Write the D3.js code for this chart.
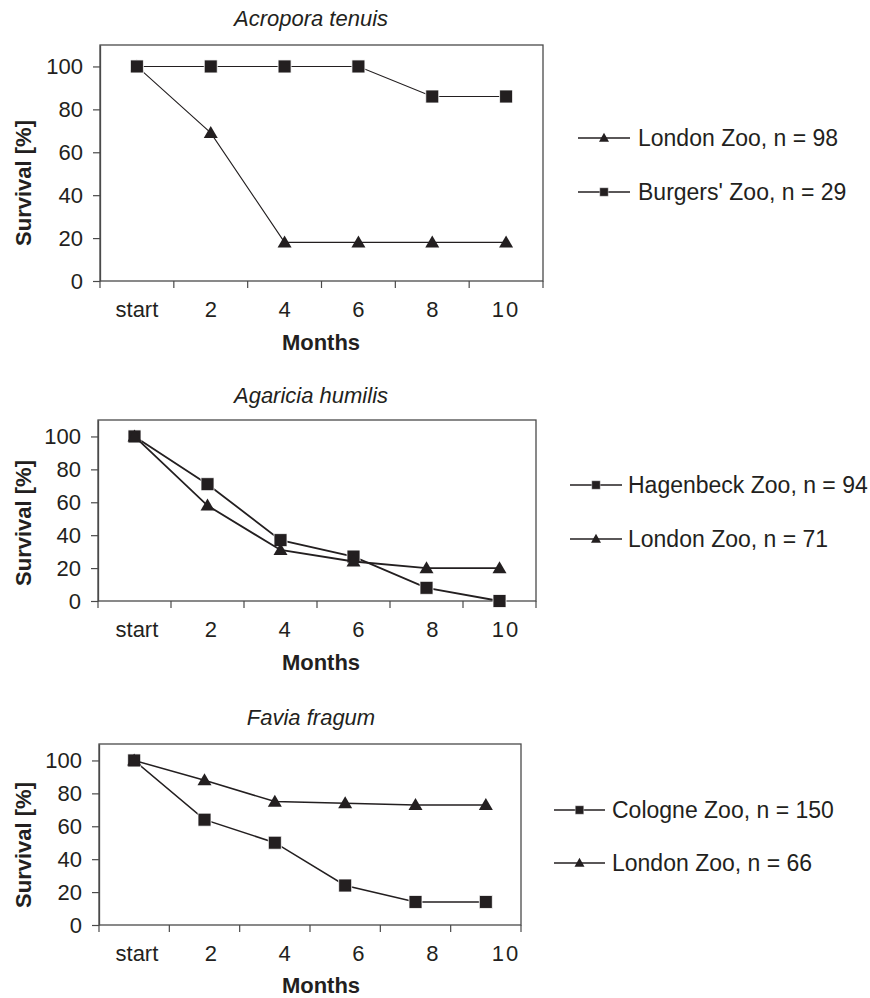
<!DOCTYPE html>
<html>
<head>
<meta charset="utf-8">
<script src="https://cdn.jsdelivr.net/npm/d3@7"></script>
<style>
  html, body { margin: 0; padding: 0; background: #fff; }
  svg { display: block; }
  text { font-family: "Liberation Sans", Arial, Helvetica, sans-serif; fill: #231f20; }
</style>
</head>
<body>
<svg id="chart" width="870" height="998"></svg>
<script>
// ---- data ----
const months = ["start", "2", "4", "6", "8", "10"];
const yTicks = [0, 20, 40, 60, 80, 100];

const acroporaLondon  = [100, 69, 18, 18, 18, 18];
const acroporaBurgers = [100, 100, 100, 100, 86, 86];

const agariciaHagenbeck = [100, 71, 37, 27, 8, 0];
const agariciaLondon    = [100, 58, 31, 24, 20, 20];

const faviaCologne = [100, 64, 50, 24, 14, 14];
const faviaLondon  = [100, 88, 75, 74, 73, 73];

const titles = ["Acropora tenuis", "Agaricia humilis", "Favia fragum"];
const xTitle = "Months";
const yTitle = "Survival [%]";

// ---- layout ----
const panels = [
  { title: titles[0], left: 100, right: 543, top: 45, bottom: 281, titleBase: 26, tickBase: 317, monthsBase: 350, yLabC: 183, lw: 1.1,
    series: [ { name: "London Zoo, n = 98", values: acroporaLondon, shape: "tri" },
              { name: "Burgers' Zoo, n = 29", values: acroporaBurgers, shape: "sq" } ],
    legend: { x0: 578, x1: 630, tx: 638, ys: [138, 192] } },
  { title: titles[1], left: 98, right: 536, top: 420, bottom: 601, titleBase: 403, tickBase: 637, monthsBase: 670, yLabC: 523, lw: 1.8,
    series: [ { name: "Hagenbeck Zoo, n = 94", values: agariciaHagenbeck, shape: "sq" },
              { name: "London Zoo, n = 71", values: agariciaLondon, shape: "tri" } ],
    legend: { x0: 570, x1: 622, tx: 628, ys: [485, 539] } },
  { title: titles[2], left: 99, right: 521, top: 744, bottom: 925, titleBase: 725, tickBase: 961, monthsBase: 993, yLabC: 845, lw: 1.5,
    series: [ { name: "Cologne Zoo, n = 150", values: faviaCologne, shape: "sq" },
              { name: "London Zoo, n = 66", values: faviaLondon, shape: "tri" } ],
    legend: { x0: 554, x1: 605, tx: 612, ys: [810, 863] } }
];

const svg = d3.select("#chart");
const FS = 22;
const LFS = 23;
const axisColor = "#4a4a4a";
const ink = "#231f20";

// tick labels share the same horizontal positions in all panels
const labelX = d3.scaleBand().domain(months).range([100, 543]);

const sqPath = s => `M${-s/2},${-s/2}h${s}v${s}h${-s}Z`;
const triPath = (w, h) => `M0,${-h*0.58}L${w/2},${h*0.42}L${-w/2},${h*0.42}Z`;

function marker(g, shape, x, y, big) {
  if (shape === "sq") {
    const s = big ? 13 : 8.5;
    g.append("path").attr("d", sqPath(s)).attr("transform", `translate(${x},${y})`)
      .attr("fill", ink).attr("stroke", "#ffffff").attr("stroke-width", big ? 0.8 : 0.4);
  } else {
    const w = big ? 14 : 10, h = big ? 12 : 9;
    g.append("path").attr("d", triPath(w, h)).attr("transform", `translate(${x},${y})`)
      .attr("fill", ink);
  }
}

panels.forEach(p => {
  const g = svg.append("g");
  const x = d3.scaleBand().domain(months).range([p.left, p.right]);
  const y = d3.scaleLinear().domain([0, 110]).range([p.bottom, p.top]);

  // frame
  g.append("rect").attr("x", p.left).attr("y", p.top)
    .attr("width", p.right - p.left).attr("height", p.bottom - p.top)
    .attr("fill", "none").attr("stroke", axisColor).attr("stroke-width", 1.3);

  // y axis
  const yAxis = d3.axisLeft(y).tickValues(yTicks).tickSize(7).tickPadding(10).tickSizeOuter(0);
  const ya = g.append("g").attr("transform", `translate(${p.left},0)`).call(yAxis);
  ya.select(".domain").attr("stroke", axisColor).attr("stroke-width", 1.3);
  ya.selectAll(".tick line").attr("stroke", axisColor).attr("stroke-width", 1.2);
  ya.selectAll(".tick text").attr("font-size", FS).attr("fill", ink)
    .attr("font-family", "Liberation Sans, Arial, sans-serif");

  // x axis: ticks between categories
  const bounds = months.map(m => x(m)).concat([p.right]);
  g.selectAll(".xt").data(bounds).enter().append("line")
    .attr("x1", d => d).attr("x2", d => d)
    .attr("y1", p.bottom).attr("y2", p.bottom + 7)
    .attr("stroke", axisColor).attr("stroke-width", 1.2);
  g.selectAll(".xl").data(months).enter().append("text")
    .attr("x", d => labelX(d) + labelX.bandwidth() / 2)
    .attr("y", p.tickBase).attr("text-anchor", "middle").attr("font-size", FS)
    .attr("letter-spacing", d => d === "10" ? 2 : 0)
    .text(d => d);

  // titles
  g.append("text").attr("x", 311).attr("y", p.titleBase).attr("text-anchor", "middle")
    .attr("font-size", FS).attr("font-style", "italic").text(p.title);
  g.append("text").attr("x", 321).attr("y", p.monthsBase).attr("text-anchor", "middle")
    .attr("font-size", FS).attr("font-weight", "bold").text(xTitle);
  g.append("text").attr("transform", `translate(31,${p.yLabC}) rotate(-90)`)
    .attr("text-anchor", "middle").attr("font-size", FS).attr("font-weight", "bold").text(yTitle);

  // series
  const line = d3.line().x((d, i) => x(months[i]) + x.bandwidth() / 2).y(d => y(d));
  p.series.forEach((s, si) => {
    g.append("path").datum(s.values).attr("d", line)
      .attr("fill", "none").attr("stroke", ink).attr("stroke-width", p.lw);
    s.values.forEach((v, i) => marker(g, s.shape, x(months[i]) + x.bandwidth() / 2, y(v), true));

    // legend
    const ly = p.legend.ys[si];
    g.append("line").attr("x1", p.legend.x0).attr("x2", p.legend.x1)
      .attr("y1", ly).attr("y2", ly).attr("stroke", ink).attr("stroke-width", 1.3);
    marker(g, s.shape, (p.legend.x0 + p.legend.x1) / 2, ly, false);
    g.append("text").attr("x", p.legend.tx).attr("y", ly + 8).attr("font-size", LFS).text(s.name);
  });
});
</script>
</body>
</html>
